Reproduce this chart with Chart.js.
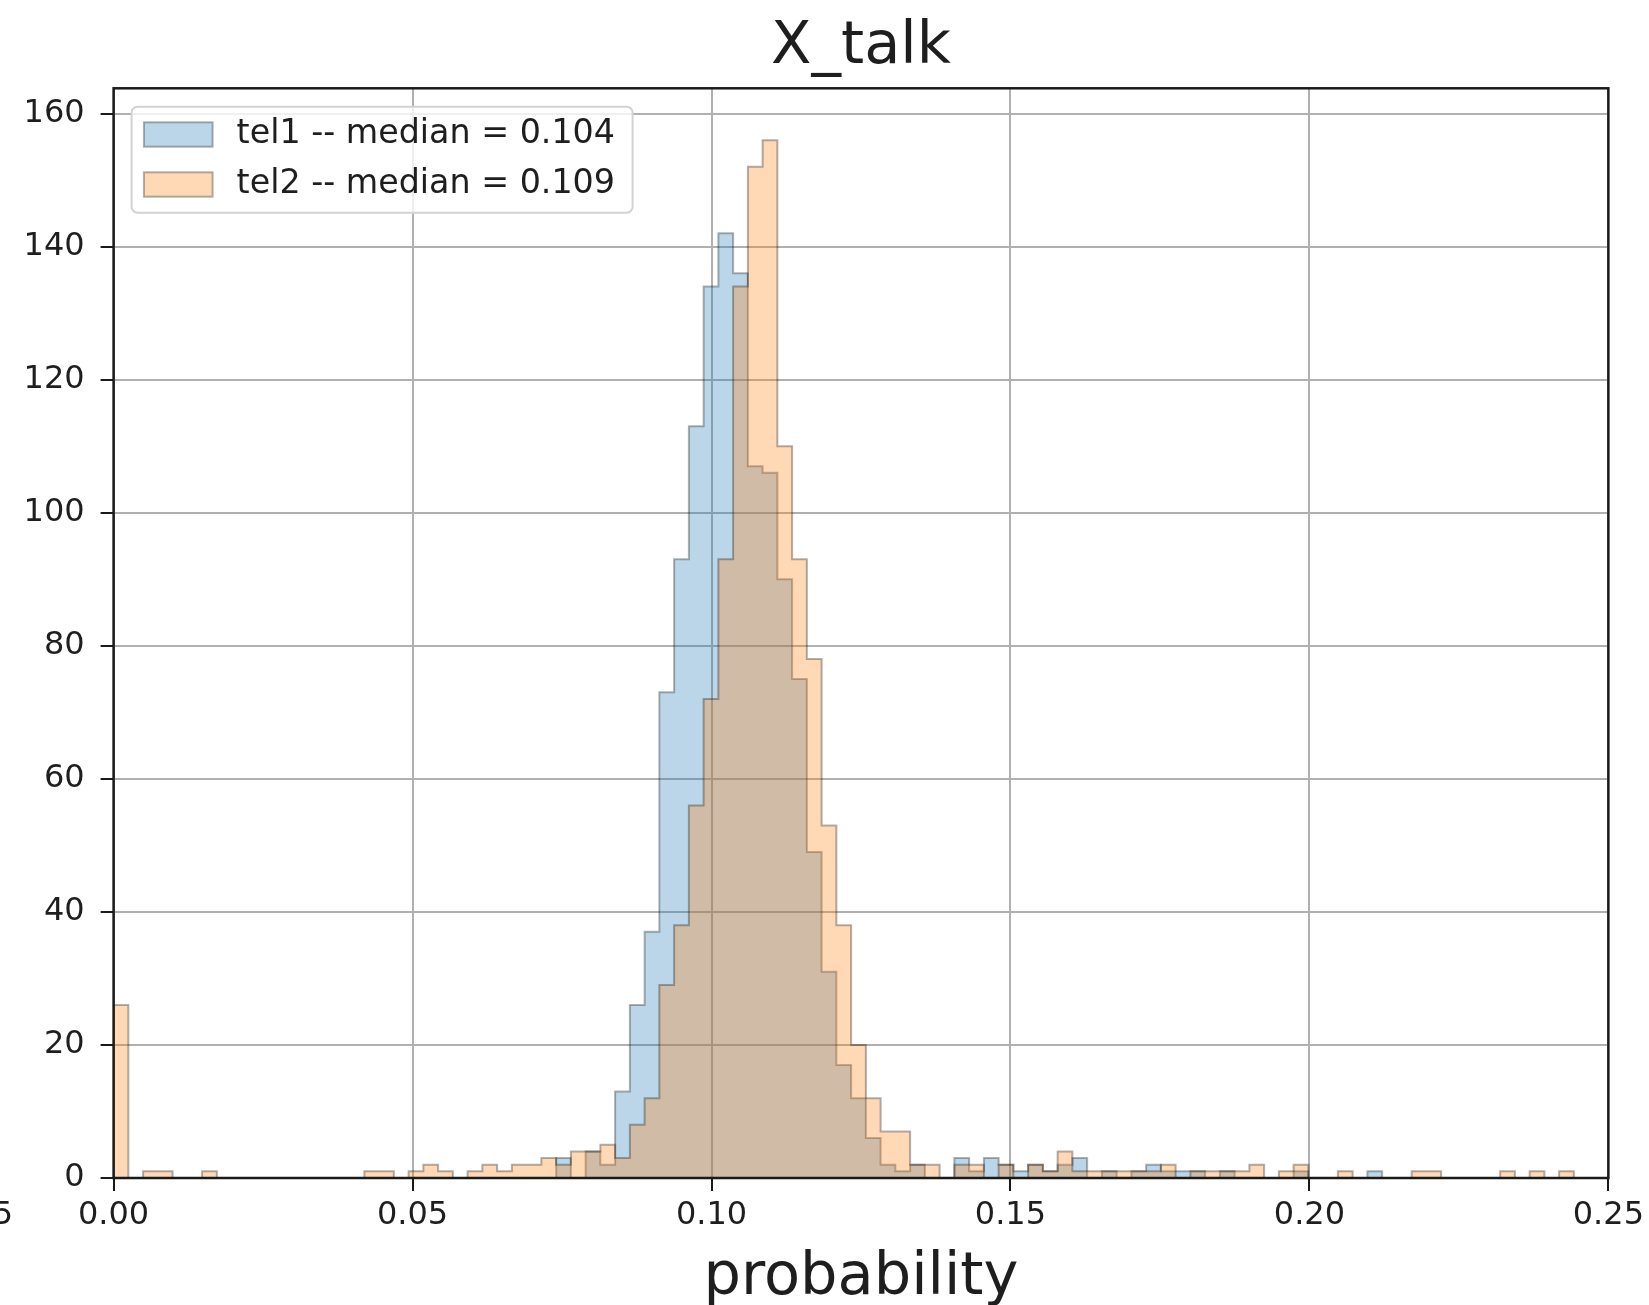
<!DOCTYPE html>
<html>
<head>
<meta charset="utf-8">
<script src="https://cdn.jsdelivr.net/npm/chart.js@4.4.1/dist/chart.umd.min.js"></script>
<style>
  html, body { margin: 0; padding: 0; background: #ffffff; }
  canvas { display: block; }
</style>
</head>
<body>
<canvas id="c" width="1649" height="1305"></canvas>
<script>
// ---------------- data ----------------
const chartTitle = 'X_talk';
const xAxisLabel = 'probability';
const seriesNames = ['tel1 -- median = 0.104', 'tel2 -- median = 0.109'];
const strayLabel = '5';

// histogram bins (shared by both series)
const binStart = 0;
const binWidth = 0.002467;

const tel1Counts = [
  0,0,0,0,0,0,0,0,0,0,
  0,0,0,0,0,0,0,0,0,0,
  0,0,0,0,0,0,0,0,0,0,
  3,0,4,2,13,26,37,73,93,113,
  134,142,136,107,106,90,75,49,31,17,
  12,6,2,1,2,0,0,3,1,3,
  2,1,2,1,2,3,0,1,0,1,
  2,1,1,1,0,1,0,0,0,0,
  1,0,0,0,0,1,0,0,0,0,
  0,0,0,0,0,0,0,0,0,0
];
const tel2Counts = [
  26,0,1,1,0,0,1,0,0,0,
  0,0,0,0,0,0,0,1,1,0,
  1,2,1,0,1,2,1,2,2,3,
  2,4,4,5,3,8,12,29,38,56,
  72,93,134,152,156,110,93,78,53,38,
  20,12,7,7,2,2,0,2,2,0,
  2,0,2,1,4,1,1,1,1,1,
  1,2,0,1,1,1,1,2,0,1,
  2,0,0,1,0,0,0,0,1,1,
  0,0,0,0,1,0,1,0,1,0
];

const xTicks = [0, 0.05, 0.10, 0.15, 0.20, 0.25];
const xTickLabels = ['0.00', '0.05', '0.10', '0.15', '0.20', '0.25'];
const yTicks = [0, 20, 40, 60, 80, 100, 120, 140, 160];
const yTickLabels = ['0', '20', '40', '60', '80', '100', '120', '140', '160'];
const xMin = 0, xMax = 0.25;
const yMin = 0, yMax = 163.8;

// ---------------- styles ----------------
const FONT = '"DejaVu Sans", "Liberation Sans", sans-serif';
const fillColors = ['rgba(31,119,180,0.3)', 'rgba(255,127,14,0.3)'];
const edgeColor = 'rgba(0,0,0,0.3)';
const textColor = '#1e1e1e';

// step outline points for a filled step histogram
function stepPoints(counts) {
  const pts = [{ x: binStart, y: 0 }];
  counts.forEach((c, i) => pts.push({ x: binStart + i * binWidth, y: c }));
  pts.push({ x: binStart + counts.length * binWidth, y: 0 });
  return pts;
}

const decoPlugin = {
  id: 'deco',
  afterDraw(chart) {
    const { ctx, chartArea: a } = chart;
    ctx.save();
    // axes box (spines)
    ctx.strokeStyle = '#1a1a1a';
    ctx.lineWidth = 2.5;
    ctx.strokeRect(a.left, a.top, a.right - a.left, a.bottom - a.top);

    // stray clipped tick label at the far left
    ctx.font = '32px ' + FONT;
    ctx.fillStyle = textColor;
    ctx.textAlign = 'right';
    ctx.textBaseline = 'middle';
    ctx.fillText(strayLabel, 13, 1216);

    // legend
    const lx = a.left + 18, ly = a.top + 18.4, lw = 501, lh = 106, r = 6;
    ctx.beginPath();
    ctx.moveTo(lx + r, ly);
    ctx.lineTo(lx + lw - r, ly);
    ctx.arcTo(lx + lw, ly, lx + lw, ly + r, r);
    ctx.lineTo(lx + lw, ly + lh - r);
    ctx.arcTo(lx + lw, ly + lh, lx + lw - r, ly + lh, r);
    ctx.lineTo(lx + r, ly + lh);
    ctx.arcTo(lx, ly + lh, lx, ly + lh - r, r);
    ctx.lineTo(lx, ly + r);
    ctx.arcTo(lx, ly, lx + r, ly, r);
    ctx.closePath();
    ctx.fillStyle = 'rgba(255,255,255,0.8)';
    ctx.fill();
    ctx.strokeStyle = '#d2d2d2';
    ctx.lineWidth = 2;
    ctx.stroke();

    ctx.font = '33.3px ' + FONT;
    ctx.textAlign = 'left';
    ctx.textBaseline = 'middle';
    seriesNames.forEach((name, i) => {
      const py = ly + 15.6 + i * 50;
      ctx.fillStyle = '#ffffff';
      ctx.fillRect(lx + 12.3, py, 68.7, 24.4);
      ctx.fillStyle = fillColors[i];
      ctx.fillRect(lx + 12.3, py, 68.7, 24.4);
      ctx.strokeStyle = edgeColor;
      ctx.lineWidth = 2;
      ctx.strokeRect(lx + 12.3, py, 68.7, 24.4);
      ctx.fillStyle = textColor;
      ctx.fillText(name, lx + 105, py + 12.5);
    });
    ctx.restore();
  }
};

new Chart(document.getElementById('c'), {
  type: 'line',
  data: {
    datasets: [
      {
        label: seriesNames[0],
        data: stepPoints(tel1Counts),
        stepped: 'before',
        fill: 'origin',
        backgroundColor: fillColors[0],
        borderColor: edgeColor,
        borderWidth: 2,
        pointRadius: 0,
        order: 1
      },
      {
        label: seriesNames[1],
        data: stepPoints(tel2Counts),
        stepped: 'before',
        fill: 'origin',
        backgroundColor: fillColors[1],
        borderColor: edgeColor,
        borderWidth: 2,
        pointRadius: 0,
        order: 0
      }
    ]
  },
  options: {
    responsive: false,
    devicePixelRatio: 1,
    animation: false,
    events: [],
    layout: { padding: { left: 0, right: 40, top: 0, bottom: 0 } },
    plugins: {
      legend: { display: false },
      tooltip: { enabled: false },
      title: {
        display: true,
        fullSize: false,
        text: chartTitle,
        color: textColor,
        font: { family: FONT, size: 59, weight: 'normal', lineHeight: 1.2 },
        padding: { top: 12.6, bottom: 4.9 }
      }
    },
    scales: {
      x: {
        type: 'linear',
        min: xMin,
        max: xMax,
        z: 1,
        border: { display: false },
        grid: {
          color: '#b0b0b0',
          lineWidth: 2,
          drawTicks: true,
          tickLength: 13,
          tickColor: '#1a1a1a',
          tickWidth: 2
        },
        afterBuildTicks: (axis) => { axis.ticks = xTicks.map(v => ({ value: v })); },
        ticks: {
          autoSkip: false,
          maxRotation: 0,
          padding: 5,
          color: textColor,
          font: { family: FONT, size: 32 },
          callback: (v, i) => xTickLabels[i]
        },
        title: {
          display: true,
          text: xAxisLabel,
          color: textColor,
          font: { family: FONT, size: 59, lineHeight: 0.9 },
          padding: { top: 0, bottom: 0 }
        },
        afterFit: (axis) => { axis.height = 127; }
      },
      y: {
        type: 'linear',
        min: yMin,
        max: yMax,
        z: 1,
        border: { display: false },
        grid: {
          color: '#b0b0b0',
          lineWidth: 2,
          drawTicks: true,
          tickLength: 13,
          tickColor: '#1a1a1a',
          tickWidth: 2
        },
        afterBuildTicks: (axis) => { axis.ticks = yTicks.map(v => ({ value: v })); },
        ticks: {
          autoSkip: false,
          padding: 16,
          color: textColor,
          font: { family: FONT, size: 32 },
          callback: (v, i) => yTickLabels[i]
        },
        afterFit: (axis) => { axis.width = 113.6; }
      }
    }
  },
  plugins: [decoPlugin]
});
</script>
</body>
</html>
